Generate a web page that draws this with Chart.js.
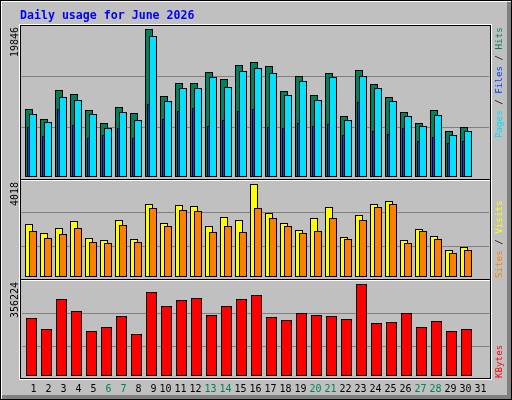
<!DOCTYPE html>
<html>
<head>
<meta charset="utf-8">
<script src="https://cdn.jsdelivr.net/npm/chart.js@4/dist/chart.umd.min.js"></script>
<style>
html,body{margin:0;padding:0;background:#C0C0C0;}
#wrap{position:relative;width:512px;height:400px;background:#C0C0C0;overflow:hidden;}
#wrap canvas{position:absolute;left:0;}
.ln{position:absolute;z-index:3;}
.txt{position:absolute;z-index:4;white-space:nowrap;font-family:"DejaVu Sans Mono",monospace;}
.up{transform-origin:0 0;transform:rotate(-90deg);font-size:10px;line-height:10px;}
.side{font-size:9.2px;}
</style>
</head>
<body>
<div id="wrap">
  <canvas id="c1" width="512" height="180" style="top:0px;width:512px;height:180px"></canvas>
  <canvas id="c2" width="512" height="99" style="top:180px;width:512px;height:99px"></canvas>
  <canvas id="c3" width="512" height="120" style="top:280px;width:512px;height:120px"></canvas>
</div>
<script>
// ---------------- data ----------------
const chartTitle = 'Daily usage for June 2026';
const YEAR = 2026, MONTH = 6;
const dayLabels = ['1','2','3','4','5','6','7','8','9','10','11','12','13','14','15','16',
                   '17','18','19','20','21','22','23','24','25','26','27','28','29','30','31'];
const hits   = [9119,7778,11667,11130,8985,7241,9387,8582,19846,10862,12598,12612,14081,13142,15019,
                15422,14885,11533,13544,10996,13946,8180,14349,12471,10728,8717,7241,8985,6169,6705];
const files  = [6745,5498,9159,6973,5270,5632,6571,5270,9789,7778,8851,9253,6839,7644,8851,
                9119,6705,6571,7241,6839,7107,5632,10058,6169,5766,6571,4828,5364,4559,4828];
const pages  = [8448,7376,10728,10326,8448,6571,8717,7644,18908,10192,11935,11940,13410,12069,14215,
                14617,13946,10996,12874,10326,13410,7644,13544,11935,10192,8180,6839,8314,5632,6169];
const visits = [2290,1901,2117,2419,1685,1598,2462,1642,3154,2333,3110,3067,2203,2592,2462,
                4018,2765,2333,2030,2549,3024,1728,2678,3154,3283,1598,2074,1771,1166,1296];
const sites  = [1987,1685,1858,2117,1512,1469,2246,1512,2981,2203,2894,2851,1944,2203,1944,
                2981,2549,2203,1901,1987,2549,1642,2462,3024,3154,1469,1987,1642,1037,1166];
const kbytes = [224576,181984,298144,251680,174240,189728,232320,162624,325248,271040,294272,302016,236192,271040,298144,
                313632,228448,216832,243936,236192,232320,220704,356224,205216,209088,243936,189728,212960,174240,181984];

// ---------------- styles ----------------
const COL = {grid:'#808080', hit:'#00805C', file:'#0040FF', page:'#00E0FF',
             visit:'#FFFF00', site:'#FF8000', kbyte:'#FF0000', weekend:'#00805C', text:'#000000'};
const MONO = '"DejaVu Sans Mono", monospace';

const wrap = document.getElementById('wrap');
function line(x, y, w, h, c){
  const d = document.createElement('div');
  d.className = 'ln';
  d.style.cssText = `left:${x}px;top:${y}px;width:${w}px;height:${h}px;background:${c}`;
  wrap.appendChild(d);
}
function text(html, x, y, cls, style){
  const d = document.createElement('div');
  d.className = 'txt ' + (cls || '');
  d.style.left = x + 'px'; d.style.top = y + 'px';
  if (style) d.style.cssText += style;
  d.innerHTML = html;
  wrap.appendChild(d);
  return d;
}

// outer bevel
line(0,0,512,1,'#000'); line(0,399,512,1,'#000'); line(0,0,1,400,'#000'); line(511,0,1,400,'#000');
line(1,1,510,1,'#FFF'); line(1,1,1,398,'#FFF');
line(507,2,4,397,'#808080'); line(2,395,509,4,'#808080');
// panel frame
line(19,24,473,1,'#FFF'); line(19,24,1,356,'#FFF'); line(491,24,1,356,'#FFF'); line(19,379,473,1,'#FFF');
line(20,25,471,1,'#000'); line(20,25,1,354,'#000'); line(490,25,1,354,'#000'); line(20,378,471,1,'#000');
line(21,179,469,1,'#000'); line(21,180,469,1,'#FFF');
line(21,279,469,1,'#000'); line(21,280,469,1,'#FFF');

// title
text(chartTitle, 20, 10, '', 'font-weight:bold;font-size:11.6px;line-height:11.6px;color:#0000FF');

// ---------------- scales ----------------
const xMin = 1/3, xMax = 1/3 + 31.2;
const isWeekend = d => { const w = new Date(YEAR, MONTH - 1, d).getDay(); return w === 0 || w === 6; };
const pts = arr => arr.map((v, i) => ({x: i + 1, y: v}));

// plot area in px, zero line and peak position measured from its top
function yBounds(peak, areaPx, zeroPx, peakPx){
  const span = peak * areaPx / (zeroPx - peakPx);
  const min = -span * (areaPx - zeroPx) / areaPx;
  return {min, max: min + span, span};
}
function yAxis(b){
  return {
    type:'linear', min:b.min, max:b.max, display:true,
    ticks:{display:false}, border:{display:false},
    grid:{color:COL.grid, lineWidth:1, drawTicks:false},
    afterBuildTicks: s => { s.ticks = [{value:b.min + b.span/3}, {value:b.min + 2*b.span/3}]; },
    afterFit: s => { s.width = 0; }
  };
}
function xAxis(show){
  return {
    type:'linear', min:xMin, max:xMax, offset:false, display:show,
    grid:{display:false, drawTicks:false}, border:{display:false},
    afterBuildTicks: s => { s.ticks = dayLabels.map((l, i) => ({value:i + 1})); },
    afterFit: s => { s.height = show ? 21 : 0; },
    ticks:{
      autoSkip:false, maxRotation:0, minRotation:0, padding:4, labelOffset:-1,
      font:{family:MONO, size:10},
      callback: v => dayLabels[v - 1].padStart(2, ' '),
      color: ctx => isWeekend(ctx.tick.value) ? COL.weekend : COL.text
    }
  };
}
// draw datasets in index order (first one at the back)
const backToFront = {
  id:'backToFront',
  beforeDatasetsDraw(chart){
    for (const meta of chart.getSortedVisibleDatasetMetas()) chart._drawDataset(meta);
    return false;
  }
};
function ds(data, color){
  return {data:pts(data), backgroundColor:color, borderColor:'#000000', borderWidth:1, borderSkipped:false};
}
function make(id, datasets, padding, yb, showX, catPct, barPct){
  return new Chart(document.getElementById(id), {
    type:'bar',
    data:{datasets},
    options:{
      responsive:false, animation:false, events:[], devicePixelRatio:1,
      layout:{padding},
      datasets:{bar:{grouped:true, categoryPercentage:catPct, barPercentage:barPct}},
      plugins:{legend:{display:false}, tooltip:{enabled:false}, title:{display:false}},
      scales:{x:xAxis(showX), y:yAxis(yb)}
    },
    plugins:[backToFront]
  });
}

const peak1 = Math.max(...hits), peak2 = Math.max(...visits), peak3 = Math.max(...kbytes);
make('c1', [ds(hits, COL.hit), ds(files, COL.file), ds(pages, COL.page)],
     {left:21, right:23, top:25, bottom:2}, yBounds(peak1, 153, 152, 4), false, 0.4, 4);
make('c2', [ds(visits, COL.visit), ds(sites, COL.site)],
     {left:21, right:23, top:0, bottom:0}, yBounds(peak2, 99, 97, 4), false, 8/15, 2);
make('c3', [ds(kbytes, COL.kbyte)],
     {left:21.5, right:22.5, top:0, bottom:0}, yBounds(peak3, 99, 96, 4), true, 1, 11/15);

// peak values (left) and series names (right), rotated
const peaks = [[peak1, 26], [peak2, 181], [peak3, 281]];
for (const [v, top] of peaks) {
  const s = String(v);
  text(s, 10, top + s.length * 6 + 0.5, 'up', 'color:#000');
}
text('<span style="color:'+COL.page+'">Pages</span> / <span style="color:'+COL.file+'">Files</span> / <span style="color:'+COL.hit+'">Hits</span>',
     494, 137.5, 'up side', 'color:#000');
text('<span style="color:'+COL.site+'">Sites</span> / <span style="color:'+COL.visit+'">Visits</span>',
     494, 277.5, 'up side', 'color:#000');
text('<span style="color:'+COL.kbyte+'">KBytes</span>', 494, 377.5, 'up side', 'color:#000');
</script>
</body>
</html>
